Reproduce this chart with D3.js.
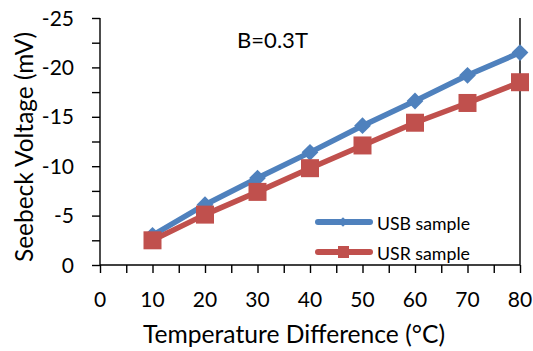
<!DOCTYPE html>
<html><head><meta charset="utf-8">
<script src="https://cdn.jsdelivr.net/npm/d3@7"></script>
<style>body{margin:0;background:#fff}svg{font-family:Lato,"Open Sans",sans-serif}</style>
</head><body><svg width="533" height="351"></svg>
<script>
const tempDiff = [10,20,30,40,50,60,70,80];
const usbValues = [-3.0,-6.1,-8.8,-11.4,-14.1,-16.6,-19.2,-21.5];
const usrValues = [-2.5,-5.1,-7.4,-9.8,-12.1,-14.4,-16.4,-18.5];
const xTicks = [0,10,20,30,40,50,60,70,80];
const yTicks = [0,-5,-10,-15,-20,-25];
const seriesNames = ["USB sample","USR sample"];
const colors = ["#4F81BD","#C0504D"];

const svg = d3.select("svg");
const L=100,R=520,T=18,B=265;
const x = d3.scaleLinear().domain([0,80]).range([L,R]);
const y = d3.scaleLinear().domain([0,-25]).range([B,T]);

function fit(sel, target){
  const n = sel.node(); const s = +sel.attr("font-size");
  const w = n.getComputedTextLength();
  if (w>0) sel.attr("font-size", (s*target/w).toFixed(2));
  return sel;
}

const gx = svg.append("g").attr("transform",`translate(0,${B})`)
  .call(d3.axisBottom(x).tickValues(d3.range(0,81,5)).tickSize(8).tickFormat(""));
const gy = svg.append("g").attr("transform",`translate(${L},0)`)
  .call(d3.axisLeft(y).tickValues(d3.range(0,-25.1,-2.5)).tickSize(8).tickFormat(""));
[gx,gy].forEach(g=>{g.selectAll("path,line").attr("stroke","#000").attr("stroke-width",1.4);});
gx.select(".domain").attr("d",`M${L},0H${R}`);
gy.select(".domain").attr("d",`M0,${T}V${B}`);
svg.append("line").attr("x1",R).attr("x2",R).attr("y1",T).attr("y2",B).attr("stroke","#000").attr("stroke-width",1.4);

svg.append("g").selectAll("text").data(xTicks).join("text")
  .attr("x",d=>x(d)).attr("y",307).attr("text-anchor","middle")
  .attr("font-size",21).attr("fill","#000").text(d=>d);
svg.append("g").selectAll("text").data(yTicks).join("text")
  .attr("x",74).attr("y",d=>y(d)+7.5).attr("text-anchor","end")
  .attr("font-size",21).attr("fill","#000").text(d=>d);

fit(svg.append("text").attr("x",294).attr("y",343).attr("text-anchor","middle")
  .attr("font-size",22).text("Temperature Difference (°C)"), 302);
fit(svg.append("text").attr("transform",`translate(33,147) rotate(-90)`).attr("text-anchor","middle")
  .attr("font-size",22).text("Seebeck Voltage (mV)"), 230);
fit(svg.append("text").attr("x",237).attr("y",48).attr("font-size",18).text("B=0.3T"), 71);

const line = d3.line().x((d,i)=>x(tempDiff[i])).y(d=>y(d));
[usbValues,usrValues].forEach((vals,k)=>{
  svg.append("path").datum(vals).attr("d",line).attr("fill","none")
    .attr("stroke",colors[k]).attr("stroke-width",5.5).attr("stroke-linejoin","round");
});
const diamond = d3.symbol().type(d3.symbolDiamond2).size(180);
svg.append("g").selectAll("path").data(usbValues).join("path")
  .attr("transform",(d,i)=>`translate(${x(tempDiff[i])},${y(d)})`)
  .attr("d",diamond).attr("fill",colors[0]);
svg.append("g").selectAll("rect").data(usrValues).join("rect")
  .attr("x",(d,i)=>x(tempDiff[i])-9).attr("y",d=>y(d)-9).attr("width",18).attr("height",18)
  .attr("fill",colors[1]);

const lg = svg.append("g");
seriesNames.forEach((n,k)=>{
  const yy = 222 + k*30;
  lg.append("line").attr("x1",318).attr("x2",370).attr("y1",yy).attr("y2",yy)
    .attr("stroke",colors[k]).attr("stroke-width",6).attr("stroke-linecap","round");
  if(k===0) lg.append("path").attr("transform",`translate(343,${yy})`).attr("d",d3.symbol().type(d3.symbolDiamond2).size(60)).attr("fill",colors[0]);
  else lg.append("rect").attr("x",338).attr("y",yy-6).attr("width",11).attr("height",12).attr("fill",colors[1]);
  fit(lg.append("text").attr("x",377).attr("y",yy+8).attr("font-size",17).text(n), 93);
});
</script></body></html>
